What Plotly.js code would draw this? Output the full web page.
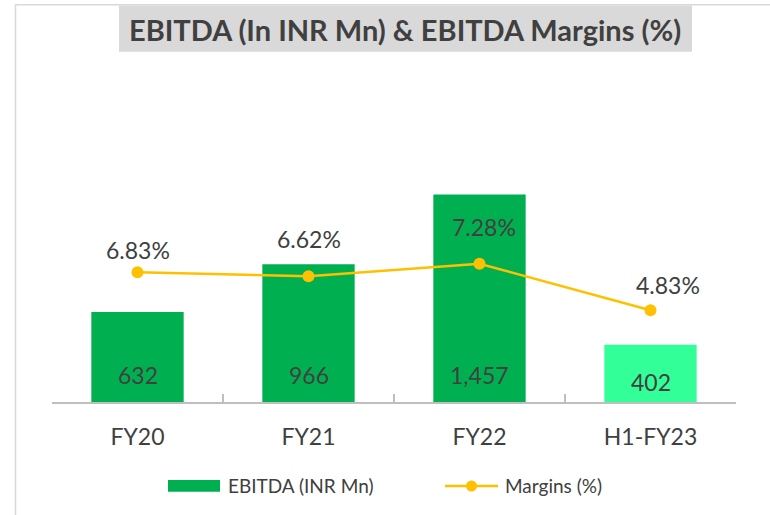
<!DOCTYPE html>
<html>
<head>
<meta charset="utf-8">
<script src="https://cdn.plot.ly/plotly-3.0.1.min.js"></script>
<style>html,body{margin:0;padding:0;background:#fff;}#chart{width:770px;height:515px;}</style>
</head>
<body>
<div id="chart"></div>
<script>
// ---- data ----
const categories = ['FY20', 'FY21', 'FY22', 'H1-FY23'];
const ebitda = [632, 966, 1457, 402];
const margins = [6.83, 6.62, 7.28, 4.83];
const ebitdaLabels = ['632', '966', '1,457', '402'];
const marginLabels = ['6.83%', '6.62%', '7.28%', '4.83%'];

// ---- styling ----
const W = 770, H = 515;
const M = {l: 52, r: 34, t: 60, b: 113};
const PW = W - M.l - M.r, PH = H - M.t - M.b;
const px = p => (p - M.l) / PW;
const py = p => (H - M.b - p) / PH;
const barColors = ['#00B050', '#00B050', '#00B050', '#33FF99'];
const marginShiftY = [22, 37, 37, 25];
const marginShiftX = [0, 0, 4, 17];
const txt = '#404040';
const FONT = 'Lato, "Open Sans", sans-serif';

const traces = [
  {
    type: 'bar', x: categories, y: ebitda, name: 'EBITDA (INR Mn)',
    marker: {color: barColors}, showlegend: false, hoverinfo: 'none'
  },
  {
    type: 'scatter', mode: 'lines+markers', x: categories, y: margins, yaxis: 'y2',
    name: 'Margins (%)', line: {color: '#FFC000', width: 2.5},
    marker: {color: '#FFC000', size: 12}, showlegend: false, hoverinfo: 'none'
  }
];

const annotations = [];
categories.forEach((c, i) => {
  annotations.push({
    x: c, y: 0, xref: 'x', yref: 'y', text: ebitdaLabels[i], showarrow: false,
    yanchor: 'middle', yshift: i === 3 ? 20 : 27, font: {family: FONT, size: 23, color: txt}
  });
  annotations.push({
    x: c, y: margins[i], xref: 'x', yref: 'y2', text: marginLabels[i], showarrow: false,
    yanchor: 'middle', yshift: marginShiftY[i], xshift: marginShiftX[i],
    font: {family: FONT, size: 23, color: txt}
  });
});
// title
annotations.push({
  x: px(405), y: py(29), xref: 'paper', yref: 'paper', text: '<b>EBITDA (In INR Mn) &amp; EBITDA Margins (%)</b>',
  showarrow: false, xanchor: 'center', yanchor: 'middle',
  font: {family: FONT, size: 29, color: txt}
});
// legend texts
annotations.push({
  x: px(226), y: py(486), xref: 'paper', yref: 'paper', text: 'EBITDA (INR Mn)', showarrow: false,
  xanchor: 'left', yanchor: 'middle', font: {family: FONT, size: 19, color: txt}
});
annotations.push({
  x: px(503), y: py(486), xref: 'paper', yref: 'paper', text: 'Margins (%)', showarrow: false,
  xanchor: 'left', yanchor: 'middle', font: {family: FONT, size: 19, color: txt}
});

const shapes = [
  // outer frame
  {type: 'rect', xref: 'paper', yref: 'paper', x0: px(15.5), x1: px(790), y0: py(530), y1: py(4.8),
   line: {color: '#D9D9D9', width: 1.5}, layer: 'below'},
  // title box
  {type: 'rect', xref: 'paper', yref: 'paper', x0: px(119), x1: px(692), y0: py(51.7), y1: py(5.5),
   fillcolor: '#D9D9D9', line: {width: 0}, layer: 'below'},
  // legend swatches
  {type: 'rect', xref: 'paper', yref: 'paper', x0: px(168), x1: px(220), y0: py(491.7), y1: py(480),
   fillcolor: '#00B050', line: {width: 0}},
  {type: 'line', xref: 'paper', yref: 'paper', x0: px(445), x1: px(498), y0: py(486), y1: py(486),
   line: {color: '#FFC000', width: 2.5}},
  {type: 'circle', xref: 'paper', yref: 'paper', x0: px(466), x1: px(477), y0: py(491.5), y1: py(480.5),
   fillcolor: '#FFC000', line: {width: 0}}
];

const layout = {
  width: W, height: H, margin: M,
  paper_bgcolor: '#fff', plot_bgcolor: '#fff',
  bargap: 0.46, showlegend: false,
  font: {family: FONT, color: txt},
  xaxis: {
    type: 'category', tickson: 'boundaries', ticks: 'inside', ticklen: 8, tickcolor: '#BFBFBF',
    tickwidth: 1.5, showline: true, linecolor: '#BFBFBF', linewidth: 1.5, showgrid: false,
    tickfont: {family: FONT, size: 23, color: txt}, ticklabelstandoff: 14, fixedrange: true
  },
  yaxis: {range: [0, 2400], visible: false, showgrid: false, zeroline: false, fixedrange: true},
  yaxis2: {range: [0, 18], overlaying: 'y', side: 'right', visible: false, showgrid: false, zeroline: false, fixedrange: true},
  annotations: annotations,
  shapes: shapes
};

Plotly.newPlot('chart', traces, layout, {staticPlot: true, displayModeBar: false});
</script>
</body>
</html>
